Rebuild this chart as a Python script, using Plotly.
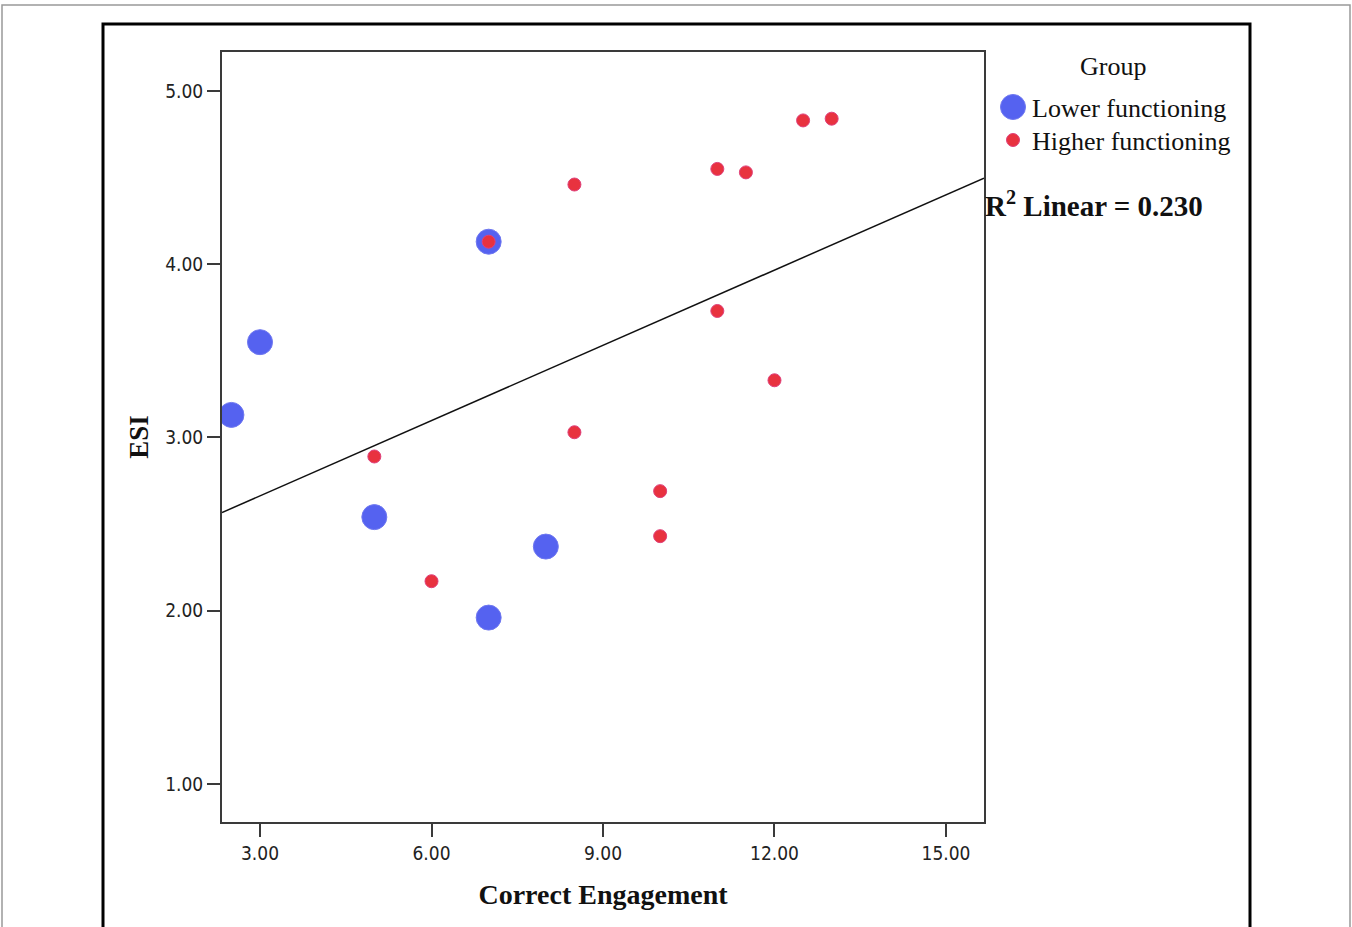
import numpy as np
import plotly.graph_objects as go

# ---- data ----
lower_x = [2.5, 3.0, 5.0, 7.0, 8.0, 7.0]
lower_y = [3.13, 3.55, 2.54, 4.13, 2.37, 1.96]
higher_x = [5.0, 6.0, 7.0, 8.5, 8.5, 10.0, 10.0, 11.0, 11.0, 11.5, 12.0, 12.5, 13.0]
higher_y = [2.89, 2.17, 4.13, 4.46, 3.03, 2.69, 2.43, 4.55, 3.73, 4.53, 3.33, 4.83, 4.84]
x_ticks = [3, 6, 9, 12, 15]
x_ticklabels = ["3.00", "6.00", "9.00", "12.00", "15.00"]
y_ticks = [1, 2, 3, 4, 5]
y_ticklabels = ["1.00", "2.00", "3.00", "4.00", "5.00"]
x_range = [2.335, 15.665]
y_range = [0.78, 5.225]
r2_text = "R<sup>2</sup> Linear = 0.230"

# ---- layout geometry (pixels) ----
W, H = 1352, 927
L, R, T, B = 222, 984, 52, 822
pw, ph = R - L, B - T

def px(xp):
    return (xp - L) / pw

def py(yp):
    return (B - yp) / ph

all_x = np.array(lower_x + higher_x)
all_y = np.array(lower_y + higher_y)
slope, intercept = np.polyfit(all_x, all_y, 1)
line_x = np.array(x_range)
line_y = intercept + slope * line_x

BLUE = "#5562F0"
RED = "#E8323F"
serif = "Liberation Serif, Times New Roman, serif"
tickfont = dict(family="DejaVu Sans Condensed, DejaVu Sans", size=19, color="#222")

fig = go.Figure()
fig.add_trace(go.Scatter(x=line_x, y=line_y, mode="lines",
                         line=dict(color="#111", width=1.5), showlegend=False, hoverinfo="skip"))
fig.add_trace(go.Scatter(x=lower_x, y=lower_y, mode="markers", name="Lower functioning",
                         marker=dict(size=25, color=BLUE, line=dict(width=1, color="#6f78f0")),
                         showlegend=False))
fig.add_trace(go.Scatter(x=higher_x, y=higher_y, mode="markers", name="Higher functioning",
                         marker=dict(size=13, color=RED, line=dict(width=1, color="#e0407a")),
                         showlegend=False))

shapes = [
    # outer gray border
    dict(type="rect", xref="paper", yref="paper", x0=px(2), x1=px(1350), y0=py(940), y1=py(5),
         line=dict(color="#999", width=1.5), layer="below"),
    # black frame
    dict(type="rect", xref="paper", yref="paper", x0=px(103), x1=px(1250), y0=py(940), y1=py(24),
         line=dict(color="#000", width=3), layer="below"),
    # legend markers
    dict(type="circle", xref="paper", yref="paper", xsizemode="pixel", ysizemode="pixel",
         xanchor=px(1013), yanchor=py(107), x0=-12.5, x1=12.5, y0=-12.5, y1=12.5,
         fillcolor=BLUE, line=dict(color="#6f78f0", width=1)),
    dict(type="circle", xref="paper", yref="paper", xsizemode="pixel", ysizemode="pixel",
         xanchor=px(1013), yanchor=py(140), x0=-6.5, x1=6.5, y0=-6.5, y1=6.5,
         fillcolor=RED, line=dict(color="#e0407a", width=1)),
]

annotations = [
    dict(text="Group", xref="paper", yref="paper", x=px(1113), y=py(66), xanchor="center", yanchor="middle",
         showarrow=False, font=dict(family=serif, size=26, color="#111")),
    dict(text="Lower functioning", xref="paper", yref="paper", x=px(1030), y=py(108), xanchor="left",
         yanchor="middle", showarrow=False, font=dict(family=serif, size=26, color="#111")),
    dict(text="Higher functioning", xref="paper", yref="paper", x=px(1030), y=py(141), xanchor="left",
         yanchor="middle", showarrow=False, font=dict(family=serif, size=26, color="#111")),
    dict(text="<b>" + r2_text + "</b>", xref="paper", yref="paper", x=px(983), y=py(204), xanchor="left",
         yanchor="middle", showarrow=False, font=dict(family=serif, size=29, color="#111")),
]

axis_common = dict(showgrid=False, zeroline=False, showline=True, mirror=True, linecolor="#3a3a3a",
                   linewidth=2, ticks="outside", ticklen=13, tickwidth=2, tickcolor="#3a3a3a",
                   tickfont=tickfont)

fig.update_layout(
    width=W, height=H, autosize=False,
    margin=dict(l=L, r=W - R, t=T, b=H - B),
    paper_bgcolor="white", plot_bgcolor="white",
    xaxis=dict(range=x_range, tickvals=x_ticks, ticktext=x_ticklabels,
               title=dict(text="<b>Correct Engagement</b>", font=dict(family=serif, size=28, color="#111"),
                          standoff=22), **axis_common),
    yaxis=dict(range=y_range, tickvals=y_ticks, ticktext=y_ticklabels,
               title=dict(text="<b>ESI</b>", font=dict(family=serif, size=27, color="#111"),
                          standoff=9), **axis_common),
    shapes=shapes, annotations=annotations, showlegend=False,
)

fig.write_html("out.html", config={"displayModeBar": False},
               post_script="document.body.style.margin='0';document.body.style.overflow='hidden';")
